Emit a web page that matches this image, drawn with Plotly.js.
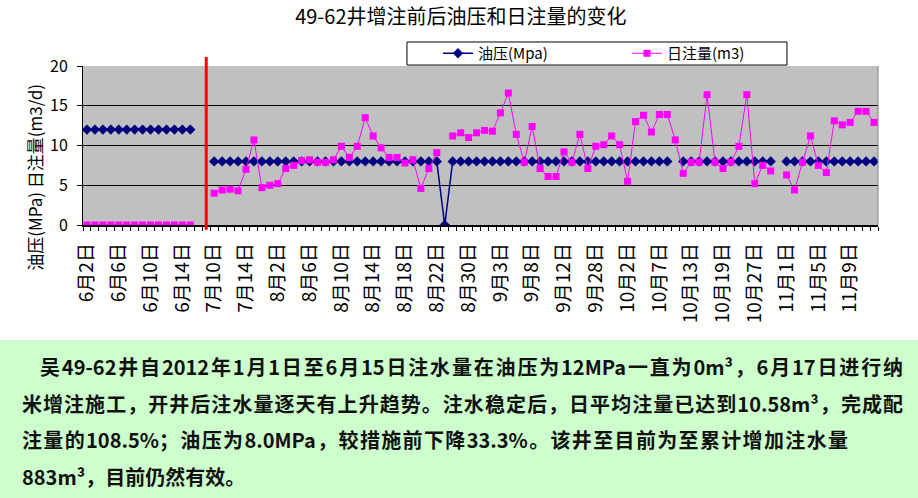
<!DOCTYPE html>
<html>
<head>
<meta charset="utf-8">
<script src="https://cdn.plot.ly/plotly-3.0.1.min.js"></script>
<style>
  html, body { margin: 0; padding: 0; background: #ffffff; width: 918px; height: 498px; overflow: hidden; }
  #chart { position: absolute; left: 0; top: 0; width: 918px; height: 340px; }
  #note {
    position: absolute; left: 0; top: 340px; width: 918px; height: 158px;
    background: #CCFFCC; box-sizing: border-box; padding-top: 9px;
    font-family: "Noto Sans CJK SC", sans-serif; font-weight: bold; font-size: 20px;
    line-height: 36.5px; color: #111; white-space: nowrap;
  }
  #note .ln { margin-left: 22px; text-align: justify; text-align-last: justify; text-justify: inter-character; height: 36.5px; }
</style>
</head>
<body>
<div id="chart"></div>
<div id="note">
  <div class="ln" style="margin-left:40px;width:863px">吴49-62井自2012年1月1日至6月15日注水量在油压为12MPa一直为0m³，6月17日进行纳</div>
  <div class="ln" style="width:881px">米增注施工，开井后注水量逐天有上升趋势。注水稳定后，日平均注量已达到10.58m³，完成配</div>
  <div class="ln" style="width:826px">注量的108.5%；油压为8.0MPa，较措施前下降33.3%。该井至目前为至累计增加注水量</div>
  <div class="ln" style="width:218px">883m³，目前仍然有效。</div>
</div>
<script>
const categories = [
  '6月2日','6月3日','6月4日','6月5日','6月6日','6月7日','6月8日','6月9日','6月10日','6月11日',
  '6月12日','6月13日','6月14日','6月15日','6月16日','6月17日',
  '7月10日','7月11日','7月12日','7月13日','7月14日','7月18日','7月24日','7月29日',
  '8月2日','8月3日','8月4日','8月5日','8月6日','8月7日','8月8日','8月9日','8月10日','8月11日',
  '8月12日','8月13日','8月14日','8月15日','8月16日','8月17日','8月18日','8月19日','8月20日','8月21日','8月22日',
  '8月24日','8月26日','8月28日','8月30日','8月31日','9月1日','9月2日','9月3日',
  '9月4日','9月5日','9月7日','9月8日','9月9日','9月10日','9月11日','9月12日',
  '9月16日','9月20日','9月24日','9月28日','9月29日','9月30日','10月1日','10月2日',
  '10月3日','10月4日','10月6日','10月7日','10月9日','10月10日','10月12日','10月13日',
  '10月14日','10月15日','10月17日','10月19日','10月21日','10月23日','10月25日','10月27日',
  '10月28日','10月29日','10月31日','11月1日','11月2日','11月3日','11月4日','11月5日',
  '11月6日','11月7日','11月8日','11月9日','11月10日','11月11日','11月12日'
];
const shownLabels = ['6月2日','6月6日','6月10日','6月14日','7月10日','7月14日','8月2日','8月6日','8月10日',
  '8月14日','8月18日','8月22日','8月30日','9月3日','9月8日','9月12日','9月28日','10月2日','10月7日',
  '10月13日','10月19日','10月27日','11月1日','11月5日','11月9日'];
const constructionDate = '6月17日';

const oilPressure = [
  12,12,12,12,12,12,12,12,12,12,12,12,12,12,
  null,null,
  8,8,8,8,8,8,8,8,8,8,8,8,8,8,8,8,8,8,8,8,8,8,8,8,8,8,8,8,8,
  0,
  8,8,8,8,8,8,8,8,8,8,8,8,8,8,8,8,8,8,8,8,8,8,8,8,8,8,8,8,
  null,
  8,8,8,8,8,8,8,8,8,8,8,8,
  null,
  8,8,8,8,8,8,8,8,8,8,8,8
];
const dailyInjection = [
  0,0,0,0,0,0,0,0,0,0,0,0,0,0,
  null,null,
  4.0,4.4,4.5,4.3,7.0,10.7,4.7,5.0,5.2,7.1,7.5,8.1,8.2,7.9,7.9,8.2,9.9,8.5,9.9,13.5,
  11.2,9.7,8.5,8.5,7.8,8.2,4.6,7.1,9.1,
  null,
  11.2,11.6,11.0,11.6,11.9,11.8,14.1,16.6,11.4,7.9,12.4,7.1,6.1,6.1,9.2,7.9,11.4,7.1,9.9,10.1,
  11.2,10.1,5.5,13.0,13.8,11.7,13.9,13.9,10.7,6.5,7.9,7.9,16.4,7.9,7.1,7.9,9.9,16.4,5.2,7.5,6.8,
  null,
  6.3,4.4,7.9,11.2,7.5,6.6,13.1,12.6,12.9,14.3,14.3,12.9
];

const cjk = '"Noto Sans CJK SC", sans-serif';

const traces = [
  {
    x: categories, y: oilPressure, name: '油压(Mpa)', type: 'scatter', mode: 'lines+markers',
    line: { color: '#000080', width: 1.5 },
    marker: { symbol: 'diamond', size: 8, color: '#000080' },
    connectgaps: false
  },
  {
    x: categories, y: dailyInjection, name: '日注量(m3)', type: 'scatter', mode: 'lines+markers',
    line: { color: '#FF00FF', width: 1 },
    marker: { symbol: 'square', size: 7, color: '#FF00FF' },
    connectgaps: false
  }
];

const layout = {
  width: 918, height: 340,
  margin: { l: 83, r: 40, t: 66, b: 115, pad: 0 },
  paper_bgcolor: '#ffffff',
  plot_bgcolor: '#C0C0C0',
  font: { family: cjk, color: '#000', size: 14 },
  title: {
    text: '49-62井增注前后油压和日注量的变化',
    font: { family: cjk, size: 20, color: '#000' },
    x: 0.502, xanchor: 'center', y: 0.95, yanchor: 'middle'
  },
  xaxis: {
    type: 'category',
    tickmode: 'array',
    tickvals: categories,
    ticktext: categories.map(c => shownLabels.includes(c) ? c : ''),
    tickson: 'boundaries',
    ticks: 'outside', ticklen: 4, tickcolor: '#000', tickwidth: 1,
    tickangle: -90,
    ticklabelstandoff: 9,
    tickfont: { family: cjk, size: 19, color: '#000' },
    showgrid: false, zeroline: false,
    showline: true, linecolor: '#000', linewidth: 1.5,
    range: [-0.5, 99.5]
  },
  yaxis: {
    range: [0, 20], dtick: 5, tick0: 0,
    ticks: 'outside', ticklen: 5, tickcolor: '#000',
    tickfont: { family: cjk, size: 16, color: '#000' },
    ticklabelstandoff: 6,
    showgrid: true, gridcolor: '#000', gridwidth: 1,
    zeroline: false,
    showline: true, linecolor: '#000', linewidth: 1, mirror: false
  },
  showlegend: true,
  legend: {
    orientation: 'h',
    x: 0.4465, xanchor: 'left', y: 1.0786, yanchor: 'middle',
    bgcolor: 'rgba(0,0,0,0)', borderwidth: 0,
    font: { family: cjk, size: 15, color: '#000' },
    itemwidth: 30, entrywidth: 144, entrywidthmode: 'pixels',
    tracegroupgap: 0
  },
  shapes: [
    { type: 'rect', xref: 'paper', yref: 'paper', x0: 0.4075, x1: 0.8855, y0: 1.006, y1: 1.151,
      fillcolor: '#ffffff', line: { color: '#000', width: 1 }, layer: 'above' },
    { type: 'line', xref: 'x', yref: 'paper', x0: constructionDate, x1: constructionDate,
      y0: -0.03, y1: 1.057, line: { color: '#FF0000', width: 3 } },
    { type: 'line', xref: 'paper', yref: 'paper', x0: 1, x1: 1, y0: 0, y1: 1,
      line: { color: '#808080', width: 1 } }
  ],
  annotations: [
    { text: '油压(MPa) 日注量(m3/d)', textangle: -90, xref: 'paper', yref: 'paper',
      x: -0.061, y: 0.30, xanchor: 'center', yanchor: 'middle', showarrow: false,
      font: { family: cjk, size: 17, color: '#000' } }
  ]
};

Plotly.newPlot('chart', traces, layout, { displayModeBar: false, staticPlot: true });
</script>
</body>
</html>
